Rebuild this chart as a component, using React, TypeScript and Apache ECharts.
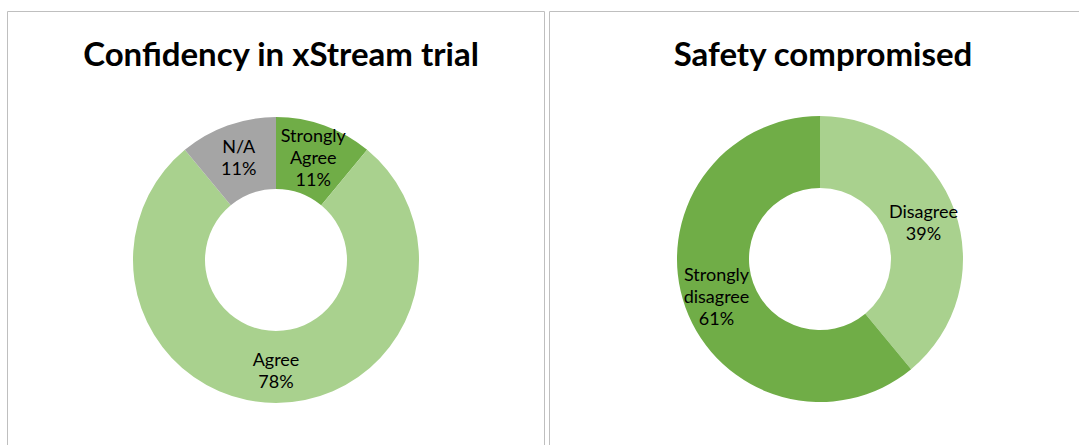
import React, { useEffect, useRef } from "react";
import * as echarts from "echarts";

const leftTitle = "Confidency in xStream trial";
const leftCategories = ["Strongly\nAgree", "Agree", "N/A"];
const leftValues = [11, 78, 11];
const leftColors = ["#70AD47", "#A9D18E", "#A5A5A5"];

const rightTitle = "Safety compromised";
const rightCategories = ["Disagree", "Strongly\ndisagree"];
const rightValues = [39, 61];
const rightColors = ["#A9D18E", "#70AD47"];

const FONT = "Lato, 'Open Sans', sans-serif";

export default function App() {
  const ref = useRef<HTMLDivElement>(null);
  useEffect(() => {
    if (!ref.current) return;
    const chart = echarts.init(ref.current, undefined, { renderer: "svg" });
    const label = {
      show: true,
      position: "inside",
      formatter: (p: any) => `${p.name}\n${p.value}%`,
      color: "#000",
      fontFamily: FONT,
      fontSize: 18,
      lineHeight: 22,
      align: "center",
    };
    const mk = (cats: string[], vals: number[], colors: string[]) =>
      cats.map((c, i) => ({ name: c, value: vals[i], itemStyle: { color: colors[i] } }));
    chart.setOption({
      animation: false,
      backgroundColor: "#fff",
      title: [
        {
          text: leftTitle,
          left: 276,
          top: 31,
          textAlign: "center",
          textStyle: { fontFamily: FONT, fontWeight: "bold", fontSize: 33, color: "#000" },
        },
        {
          text: rightTitle,
          left: 818,
          top: 31,
          textAlign: "center",
          textStyle: { fontFamily: FONT, fontWeight: "bold", fontSize: 33, color: "#000" },
        },
      ],
      graphic: [
        {
          type: "rect",
          shape: { x: 7.5, y: 11.5, width: 537, height: 445 },
          style: { fill: "none", stroke: "#BFBFBF", lineWidth: 1 },
        },
        {
          type: "rect",
          shape: { x: 549.5, y: 11.5, width: 545, height: 445 },
          style: { fill: "none", stroke: "#BFBFBF", lineWidth: 1 },
        },
      ],
      series: [
        {
          type: "pie",
          center: [276, 260],
          radius: [71, 143],
          startAngle: 90,
          clockwise: true,
          label,
          labelLine: { show: false },
          emphasis: { disabled: true },
          data: mk(leftCategories, leftValues, leftColors),
        },
        {
          type: "pie",
          center: [820, 259],
          radius: [71, 143],
          startAngle: 90,
          clockwise: true,
          label,
          labelLine: { show: false },
          emphasis: { disabled: true },
          data: mk(rightCategories, rightValues, rightColors),
        },
      ],
    });
    return () => chart.dispose();
  }, []);
  return (
    <div
      ref={ref}
      style={{ position: "fixed", left: 0, top: 0, width: 1079, height: 445 }}
    />
  );
}
